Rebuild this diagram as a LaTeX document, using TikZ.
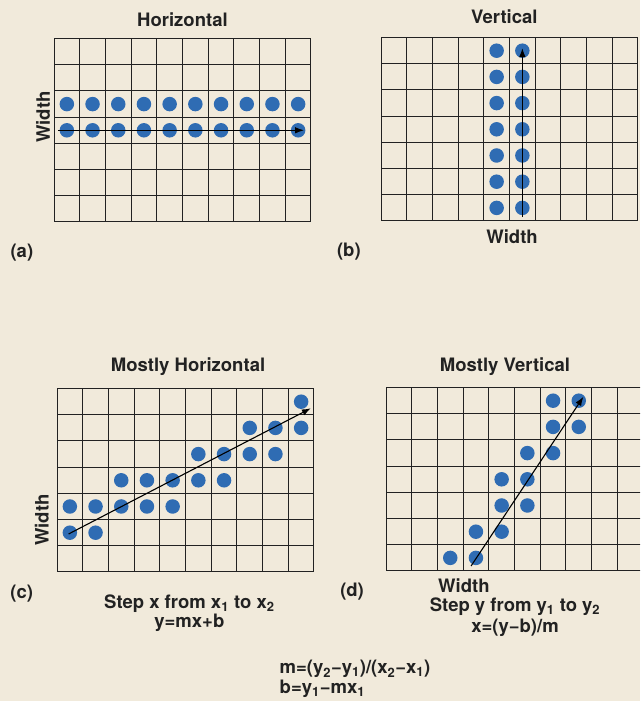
\documentclass[tikz,border=0pt]{standalone}
\usepackage{fontspec}
\setmainfont{TeX Gyre Heros}
\usepackage{xcolor}
\usepackage{tikz}
\usetikzlibrary{arrows.meta,positioning}
\definecolor{paper}{HTML}{F1EADB}
\definecolor{dotblue}{HTML}{2F6CB3}
\definecolor{ink}{HTML}{222222}

\begin{document}
\begin{tikzpicture}[x=1pt,y=1pt,font=\fontsize{18.5}{21}\selectfont\bfseries,text=ink,dot/.style={circle,fill=dotblue,inner sep=0pt,minimum size=14.5pt},gridline/.style={draw=ink,line width=1pt,step=1},vec/.style={draw=black,line width=1.1pt,-{Latex[length=9pt,width=6.5pt]}},tag/.style={inner sep=0pt},panel/.style={x=25.7pt,y=26.2pt}]
\fill[paper] (0,0) rectangle (640,701);
\useasboundingbox (0,0) rectangle (640,701);
\clip (0,0) rectangle (640,701);
% (a) horizontal
\begin{scope}[shift={(54,479)},panel]
\draw[gridline] (0,0) grid (10,7);
\foreach \c in {0,...,9} {\node[dot] (hi\c) at (\c+.5,4.5) {}; \node[dot] (lo\c) at (\c+.5,3.5) {};}
\coordinate (aStart) at (0.15,3.5);
\coordinate (aEnd) at (9.73,3.5);
\draw[vec] (aStart)--(aEnd);
\node[tag] (aTitle) at (5,7.72) {Horizontal};
\node[tag,rotate=90] (aWidth) at (-0.43,4) {Width};
\node[tag] (aLabel) at (-1.25,-1.15) {(a)};
\end{scope}
% (b) vertical
\begin{scope}[shift={(381,480)},panel]
\draw[gridline] (0,0) grid (10,7);
\foreach \r in {0,...,6} {\node[dot] (le\r) at (4.5,\r+.5) {}; \node[dot] (ri\r) at (5.5,\r+.5) {};}
\coordinate (bStart) at (5.5,0.15);
\coordinate (bEnd) at (5.5,6.6);
\draw[vec] (bStart)--(bEnd);
\node[tag] (bTitle) at (4.8,7.79) {Vertical};
\node[tag] (bWidth) at (5.1,-0.61) {Width};
\node[tag] (bLabel) at (-1.25,-1.18) {(b)};
\end{scope}
% (c) mostly horizontal
\begin{scope}[shift={(57,129)},panel]
\draw[gridline] (0,0) grid (10,7);
\foreach \c/\r [count=\i] in {0/1,1/1,0/2,1/2,2/2,3/2,4/2,2/3,3/3,4/3,5/3,6/3,5/4,6/4,7/4,8/4,7/5,8/5,9/5,9/6}
  \node[dot] (c\i) at (\c+.5,\r+.5) {};
\coordinate (cStart) at (0.45,1.45);
\coordinate (cEnd) at (9.88,6.25);
\draw[vec] (cStart)--(cEnd);
\node[tag] (cTitle) at (5.1,7.82) {Mostly Horizontal};
\node[tag,rotate=90] (cWidth) at (-0.59,1.98) {Width};
\node[tag] (cLabel) at (-1.37,-0.84) {(c)};
\node[tag] (cStep) at (5.15,-1.2) {Step x from x\textsubscript{1} to x\textsubscript{2}};
\node[tag,below=1pt of cStep] (cRule) {y=mx+b};
\end{scope}
% (d) mostly vertical
\begin{scope}[shift={(386,130)},panel]
\draw[gridline] (0,0) grid (10,7);
\foreach \c/\r [count=\i] in {2/0,3/0,3/1,4/1,4/2,5/2,4/3,5/3,5/4,6/4,6/5,7/5,6/6,7/6}
  \node[dot] (d\i) at (\c+.5,\r+.5) {};
\coordinate (dStart) at (3.31,0.19);
\coordinate (dEnd) at (7.68,6.65);
\draw[vec] (dStart)--(dEnd);
\node[tag] (dTitle) at (4.63,7.79) {Mostly Vertical};
\node[tag] (dWidth) at (3.03,-0.57) {Width};
\node[tag] (dStep) at (5.02,-1.36) {Step y from y\textsubscript{1} to y\textsubscript{2}};
\node[tag,below=3pt of dStep] (dRule) {x=(y−b)/m};
\node[tag] (dLabel) at (-1.32,-0.8) {(d)};
\end{scope}
% slope and intercept
\node[tag] (slope) at (355,32) {m=(y\textsubscript{2}−y\textsubscript{1})/(x\textsubscript{2}−x\textsubscript{1})};
\node[tag,below=2pt of slope.south west,anchor=north west] (icept) {b=y\textsubscript{1}−mx\textsubscript{1}};
\end{tikzpicture}
\end{document}
